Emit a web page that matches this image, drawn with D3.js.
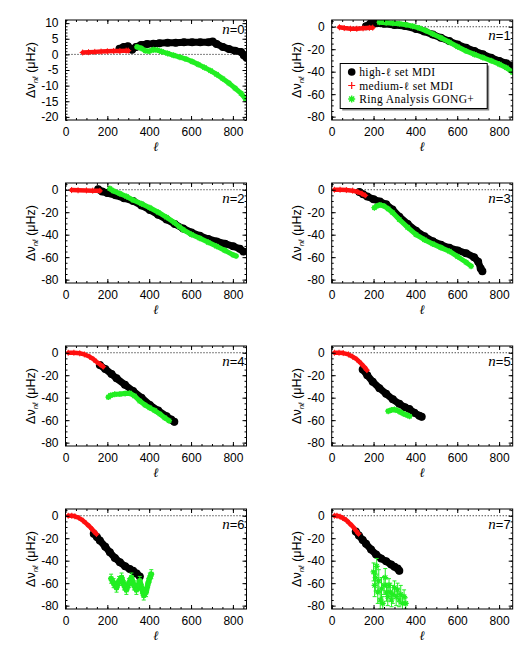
<!doctype html>
<html lang="en">
  <head>
    <meta charset="UTF-8" />
    <title>Frequency differences vs degree, n = 0 to 7</title>
    <script src="https://d3js.org/d3.v7.min.js"></script>
    <style>
      body {
        margin: 0;
        background: #fff;
      }
      svg {
        display: block;
        font-family: "Liberation Sans", Arial, sans-serif;
      }
    </style>
  </head>
  <body>
    <script>
      // axis setup
      const ellMax = 865;
      const ellTicks = [0, 200, 400, 600, 800];
      const yDomain0 = [-21, 11];
      const yTicks0 = [10, 5, 0, -5, -10, -15, -20];
      const yDomain = [-83, 6];
      const yTicks = [0, -20, -40, -60, -80];
      const legendLabels = ["high-ℓ set MDI", "medium-ℓ set MDI", "Ring Analysis GONG+"];

      // [ell, delta nu]
      const highL0 = [[258, 1.8], [278, 2.4], [298, 2.6], [318, 1.5], [337, 2.4], [361, 3.0], [390, 3.3], [420, 3.4], [449, 3.6], [488, 3.7], [527, 3.7], [566, 3.9], [605, 3.9], [644, 3.9], [683, 3.9], [703, 4.1], [722, 3.3], [752, 2.4], [781, 1.7], [810, 1.2], [839, 0.8], [852, -0.3], [864, -1.0]];
      const mediumL0 = [[82, 0.6], [110, 0.7], [140, 0.8], [170, 0.9], [200, 1.0], [230, 1.1], [260, 1.1], [290, 1.2], [300, 1.2]];
      const ring0 = [[342, 2.4], [361, 2.0], [381, 1.2], [400, 1.0], [420, 1.5], [439, 1.4], [459, 0.9], [488, 0.3], [517, -0.3], [547, -0.9], [576, -1.5], [605, -2.3], [634, -3.2], [664, -4.2], [693, -5.2], [722, -6.4], [752, -7.8], [781, -9.2], [810, -10.8], [839, -12.5], [860, -14.2]];

      const highL1 = [[164, 0.5], [185, 2.8], [210, 3.2], [250, 2.6], [300, 1.6], [350, 0.6], [403, -2.0], [443, -4.3], [483, -7.0], [522, -9.8], [562, -12.8], [602, -15.8], [642, -18.7], [682, -21.6], [722, -24.5], [762, -27.5], [801, -30.4], [835, -32.5], [862, -35.0]];
      const mediumL1 = [[37, -0.5], [60, -1.2], [90, -1.8], [120, -1.8], [150, -1.4], [180, -1.0], [196, -0.8]];
      const ring1 = [[228, 4.0], [260, 3.6], [292, 3.2], [323, 2.6], [355, 1.8], [387, 0.5], [419, -1.2], [451, -3.6], [483, -6.4], [522, -9.8], [562, -13.7], [602, -17.8], [642, -21.6], [682, -24.6], [722, -27.4], [762, -30.3], [801, -33.3], [835, -36.5], [865, -40.6]];

      const highL2 = [[156, 0.5], [175, -1.5], [200, -3.0], [240, -5.0], [280, -7.5], [323, -10.0], [363, -14.0], [403, -18.0], [443, -22.2], [483, -26.5], [522, -30.5], [562, -34.5], [602, -38.0], [642, -41.0], [682, -43.8], [722, -46.0], [762, -48.0], [801, -50.3], [833, -52.6], [850, -55.0]];
      const mediumL2 = [[29, -0.3], [60, -0.5], [100, -0.6], [130, -0.8], [164, -1.0]];
      const ring2 = [[212, 1.0], [228, -1.0], [260, -3.5], [292, -6.0], [323, -9.2], [363, -12.5], [403, -16.0], [443, -20.0], [483, -24.5], [522, -29.5], [545, -33.0], [562, -35.5], [602, -39.8], [642, -43.2], [682, -46.8], [722, -50.3], [762, -54.0], [801, -58.0], [815, -59.0]];

      const highL3 = [[132, -2.0], [150, -4.0], [170, -6.0], [200, -8.5], [230, -10.5], [260, -13.0], [290, -17.5], [323, -24.0], [363, -30.5], [403, -36.5], [443, -41.5], [483, -45.8], [522, -49.0], [562, -51.7], [602, -54.0], [642, -56.5], [680, -60.0], [700, -64.0], [712, -70.0], [720, -72.5]];
      const mediumL3 = [[13, 0], [40, 0], [70, -0.3], [100, -0.8], [125, -2.0], [145, -3.5], [160, -5.0]];
      const ring3 = [[204, -16.0], [215, -14.5], [230, -13.5], [250, -14.5], [270, -17.0], [292, -20.5], [323, -26.5], [363, -33.5], [403, -39.9], [443, -44.5], [483, -48.2], [522, -51.5], [562, -54.7], [602, -59.5], [642, -64.5], [666, -68.0]];

      const highL4 = [[164, -11.0], [190, -14.5], [220, -19.0], [244, -22.8], [284, -28.5], [323, -34.0], [363, -40.0], [403, -46.5], [443, -51.5], [483, -56.5], [505, -59.5], [520, -61.5]];
      const mediumL4 = [[13, 0], [40, 0], [68, -0.5], [90, -1.5], [116, -3.6], [135, -6.0], [148, -8.0], [165, -10.3], [180, -12.4]];
      const ring4 = [[205, -39.5], [215, -38.0], [235, -37.0], [260, -36.8], [285, -36.2], [307, -36.0], [330, -38.5], [355, -43.0], [380, -46.5], [403, -49.0], [427, -51.5], [451, -54.5], [475, -58.0], [495, -60.5]];

      const highL5 = [[148, -15.0], [170, -20.0], [196, -25.8], [228, -31.5], [260, -36.5], [292, -41.5], [323, -45.5], [350, -48.5], [371, -50.0], [395, -53.5], [419, -56.0], [430, -57.0]];
      const mediumL5 = [[13, 0], [35, 0], [55, -0.3], [80, -1.5], [100, -3.5], [120, -6.0], [140, -9.5], [155, -12.5], [168, -15.5]];
      const ring5 = [[270, -52.0], [285, -51.0], [300, -50.5], [315, -51.5], [330, -53.0], [345, -54.5], [360, -55.5], [372, -56.5]];

      const highL6 = [[135, -16.0], [150, -19.0], [164, -22.0], [190, -27.5], [212, -32.6], [236, -37.5], [260, -41.5], [285, -45.0], [307, -47.5], [323, -49.0], [340, -51.5], [355, -54.0]];
      const mediumL6 = [[13, 0], [30, 0], [45, -0.5], [65, -2.0], [84, -4.4], [100, -7.0], [116, -9.8], [132, -13.0], [148, -16.3]];
      // [ell, delta nu, error]
      const ring6 = [[218, -56, 4], [230, -60, 4], [244, -64, 4], [256, -58, 4], [268, -55, 4], [280, -62, 4], [291, -66, 4], [303, -60, 4], [315, -55, 4], [327, -62, 4], [339, -66, 4], [347, -62, 4], [355, -58, 4], [365, -65, 4], [374, -71, 4], [385, -68, 4], [395, -60, 4], [403, -55, 4], [410, -52, 4]];

      const highL7 = [[115, -14.0], [130, -17.5], [148, -21.5], [164, -25.0], [188, -30.0], [212, -34.5], [236, -38.0], [260, -40.5], [284, -43.5], [300, -45.5], [315, -47.0], [323, -49.0]];
      const mediumL7 = [[13, 0], [25, 0], [40, -0.8], [53, -2.0], [70, -4.0], [84, -6.5], [100, -9.5], [116, -13.3], [128, -16.0]];
      const ring7 = [[200, -50, 8], [205, -62, 10], [210, -55, 12], [215, -45, 7], [220, -68, 10], [225, -58, 10], [232, -75, 8], [238, -65, 10], [244, -78, 6], [250, -62, 8], [256, -55, 8], [262, -68, 8], [268, -72, 8], [274, -62, 6], [280, -68, 8], [286, -75, 6], [292, -70, 8], [300, -64, 6], [308, -72, 8], [315, -66, 6], [322, -75, 6], [330, -70, 8], [338, -78, 6], [346, -72, 6], [354, -78, 5]];

      const panels = [
        { n: 0, high: highL0, medium: mediumL0, ring: ring0, yDomain: yDomain0, yTicks: yTicks0, minor: 1 },
        { n: 1, high: highL1, medium: mediumL1, ring: ring1, yDomain: yDomain, yTicks: yTicks, minor: 5 },
        { n: 2, high: highL2, medium: mediumL2, ring: ring2, yDomain: yDomain, yTicks: yTicks, minor: 5 },
        { n: 3, high: highL3, medium: mediumL3, ring: ring3, yDomain: yDomain, yTicks: yTicks, minor: 5 },
        { n: 4, high: highL4, medium: mediumL4, ring: ring4, yDomain: yDomain, yTicks: yTicks, minor: 5 },
        { n: 5, high: highL5, medium: mediumL5, ring: ring5, yDomain: yDomain, yTicks: yTicks, minor: 5 },
        { n: 6, high: highL6, medium: mediumL6, ring: ring6, yDomain: yDomain, yTicks: yTicks, minor: 5, bars: true },
        { n: 7, high: highL7, medium: mediumL7, ring: ring7, yDomain: yDomain, yTicks: yTicks, minor: 5, bars: true, scatter: true },
      ];

      const RED = "#ff1010";
      const GREEN = "#22ee22";
      const panelW = 181;
      const panelH = 100;
      const colLeft = [65.5, 331.7];
      const rowTop = [20, 183, 346, 509];

      const plusPath = (s) => `M${-s},0H${s}M0,${-s}V${s}`;
      const starPath = (s) => {
        const d = s * 0.72;
        return `M${-s},0H${s}M0,${-s}V${s}M${-d},${-d}L${d},${d}M${-d},${d}L${d},${-d}`;
      };

      const svg = d3.select("body").append("svg").attr("width", 532).attr("height", 650);

      const x = d3.scaleLinear().domain([0, ellMax]).range([0, panelW]);

      panels.forEach((p, i) => {
        const left = colLeft[i % 2];
        const top = rowTop[Math.floor(i / 2)];
        const y = d3.scaleLinear().domain(p.yDomain).range([panelH, 0]);
        const g = svg.append("g").attr("transform", `translate(${left},${top})`);

        g.append("clipPath").attr("id", "clip" + i)
          .append("rect").attr("width", panelW).attr("height", panelH);
        const plot = g.append("g").attr("clip-path", `url(#clip${i})`);

        plot.append("line")
          .attr("x1", 0).attr("x2", panelW)
          .attr("y1", y(0)).attr("y2", y(0))
          .attr("stroke", "#000").attr("stroke-width", 1)
          .attr("stroke-dasharray", "1,2");

        const line = d3.line().x((d) => x(d[0])).y((d) => y(d[1]));

        // high-l MDI: filled circles
        plot.append("path").datum(p.high).attr("d", line)
          .attr("fill", "none").attr("stroke", "#000").attr("stroke-width", 7)
          .attr("stroke-linejoin", "round").attr("stroke-linecap", "round");
        plot.append("g").selectAll("circle").data(p.high).join("circle")
          .attr("cx", (d) => x(d[0])).attr("cy", (d) => y(d[1])).attr("r", 4);

        // medium-l MDI: plus signs
        plot.append("path").datum(p.medium).attr("d", line)
          .attr("fill", "none").attr("stroke", RED).attr("stroke-width", 4.5)
          .attr("stroke-linejoin", "round").attr("stroke-linecap", "round");
        plot.append("g").selectAll("path").data(p.medium).join("path")
          .attr("transform", (d) => `translate(${x(d[0])},${y(d[1])})`)
          .attr("d", plusPath(3)).attr("stroke", RED).attr("stroke-width", 1);

        // ring analysis GONG+: asterisks
        if (!p.scatter) {
          plot.append("path").datum(p.ring).attr("d", line)
            .attr("fill", "none").attr("stroke", GREEN).attr("stroke-width", p.bars ? 5.5 : 5)
            .attr("stroke-linejoin", "round").attr("stroke-linecap", "round");
        }
        if (p.bars) {
          const eb = plot.append("g").attr("stroke", GREEN).attr("stroke-width", 1);
          eb.selectAll("line.v").data(p.ring).join("line").attr("class", "v")
            .attr("x1", (d) => x(d[0])).attr("x2", (d) => x(d[0]))
            .attr("y1", (d) => y(d[1] - d[2])).attr("y2", (d) => y(d[1] + d[2]));
          eb.selectAll("line.t").data(p.ring).join("line").attr("class", "t")
            .attr("x1", (d) => x(d[0]) - 2).attr("x2", (d) => x(d[0]) + 2)
            .attr("y1", (d) => y(d[1] + d[2])).attr("y2", (d) => y(d[1] + d[2]));
          eb.selectAll("line.b").data(p.ring).join("line").attr("class", "b")
            .attr("x1", (d) => x(d[0]) - 2).attr("x2", (d) => x(d[0]) + 2)
            .attr("y1", (d) => y(d[1] - d[2])).attr("y2", (d) => y(d[1] - d[2]));
        }
        plot.append("g").selectAll("path").data(p.ring).join("path")
          .attr("transform", (d) => `translate(${x(d[0])},${y(d[1])})`)
          .attr("d", starPath(3)).attr("stroke", GREEN).attr("stroke-width", 1.2);

        // axes: ticks inside on all four sides
        const minorX = d3.range(0, ellMax + 1, 50);
        const minorY = d3.range(Math.ceil(p.yDomain[0] / p.minor) * p.minor, p.yDomain[1] + 0.01, p.minor);

        const axes = [
          [d3.axisBottom(x).tickValues(ellTicks), [0, panelH], true],
          [d3.axisTop(x).tickValues(ellTicks), [0, 0], false],
          [d3.axisLeft(y).tickValues(p.yTicks), [0, 0], true],
          [d3.axisRight(y).tickValues(p.yTicks), [panelW, 0], false],
          [d3.axisBottom(x).tickValues(minorX), [0, panelH], false, true],
          [d3.axisTop(x).tickValues(minorX), [0, 0], false, true],
          [d3.axisLeft(y).tickValues(minorY), [0, 0], false, true],
          [d3.axisRight(y).tickValues(minorY), [panelW, 0], false, true],
        ];
        axes.forEach(([ax, pos, labels, minor]) => {
          ax.tickSizeInner(minor ? -2 : -4).tickSizeOuter(0)
            .tickPadding(labels ? 7 : 0)
            .tickFormat(labels ? (d) => String(d) : "");
          const a = g.append("g").attr("transform", `translate(${pos[0]},${pos[1]})`).call(ax);
          a.select(".domain").remove();
          a.selectAll("text").attr("font-size", 12).attr("font-family", "Liberation Sans, Arial, sans-serif").attr("fill", "#000");
        });

        g.append("rect").attr("width", panelW).attr("height", panelH)
          .attr("fill", "none").attr("stroke", "#000").attr("stroke-width", 1);

        // panel label
        const nl = g.append("text")
          .attr("x", panelW - 2).attr("y", p.n === 0 ? 13.5 : 19.5)
          .attr("text-anchor", "end").attr("font-size", 13);
        nl.append("tspan").attr("font-family", "Liberation Serif, serif").attr("font-style", "italic").attr("font-size", 15).text("n");
        nl.append("tspan").text("=" + p.n);

        // y axis title
        const yt = g.append("text")
          .attr("transform", `translate(-31,${panelH / 2}) rotate(-90)`)
          .attr("text-anchor", "middle").attr("font-size", 12.5);
        yt.append("tspan").text("Δν");
        yt.append("tspan").attr("font-size", 8).attr("font-style", "italic").attr("dy", 3).text("nℓ");
        yt.append("tspan").attr("dy", -3).text(" (μHz)");

        // x axis title
        g.append("text")
          .attr("x", panelW / 2).attr("y", panelH + 31)
          .attr("text-anchor", "middle")
          .attr("font-family", "DejaVu Serif, serif").attr("font-style", "italic")
          .attr("font-size", 13).text("ℓ");

        // legend in the n=1 panel
        if (p.n === 1) {
          const lg = g.append("g").attr("transform", "translate(8.5,43.5)");
          const bw = 147, bh = 45;
          lg.append("rect").attr("x", 2).attr("y", 2).attr("width", bw).attr("height", bh).attr("fill", "#888");
          lg.append("rect").attr("width", bw).attr("height", bh).attr("fill", "#fff").attr("stroke", "#000").attr("stroke-width", 1);
          const rows = [8.5, 22, 35.5];
          lg.append("circle").attr("cx", 11.5).attr("cy", rows[0]).attr("r", 3.8);
          lg.append("path").attr("transform", `translate(11.5,${rows[1]})`).attr("d", plusPath(3.5)).attr("stroke", RED).attr("stroke-width", 1.2);
          lg.append("path").attr("transform", `translate(11.5,${rows[2]})`).attr("d", starPath(3.5)).attr("stroke", GREEN).attr("stroke-width", 1.4);
          lg.selectAll("text.lab").data(legendLabels).join("text").attr("class", "lab")
            .attr("x", 19).attr("y", (d, k) => rows[k] + 4)
            .attr("font-family", "Liberation Serif, Times New Roman, serif").attr("font-size", 11.5)
            .attr("letter-spacing", 0.4)
            .text((d) => d);
        }
      });
    </script>
  </body>
</html>
